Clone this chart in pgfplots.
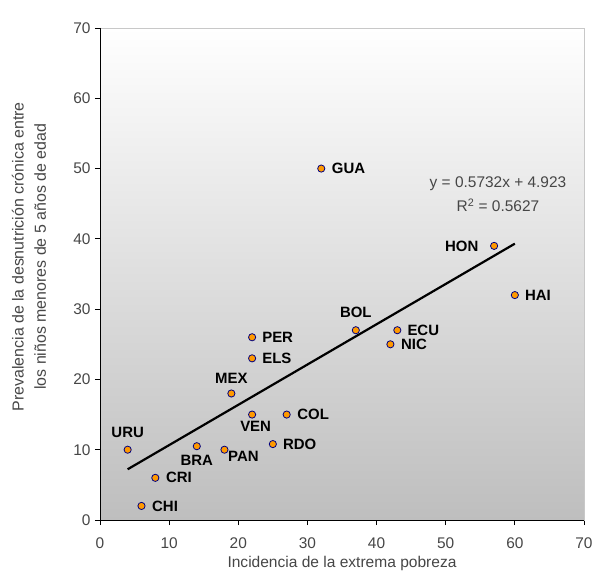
\documentclass[border=0pt]{standalone}
\usepackage{fontspec}
\setmainfont{Liberation Sans}
\usepackage{pgfplots}
\pgfplotsset{compat=1.18}
\definecolor{txt}{RGB}{70,70,70}
\definecolor{mk}{RGB}{255,153,0}
\definecolor{mkb}{RGB}{0,0,128}
\definecolor{bgb}{RGB}{190,190,190}
\definecolor{brd}{RGB}{200,200,200}
\tikzset{lab/.style={font=\bfseries\fontsize{15}{18}\selectfont, inner sep=0pt, text=black}}
\begin{document}
\begin{tikzpicture}
\useasboundingbox (0,0) rectangle (593bp,571bp);
\begin{axis}[
  at={(100bp,51bp)}, anchor=south west,
  scale only axis, width=484bp, height=492bp,
  xmin=0,xmax=70,ymin=0,ymax=70,
  xtick={0,10,...,70}, ytick={0,10,...,70},
  tick align=outside, xtick pos=bottom, ytick pos=left,
  major tick length=5bp,
  tick style={black, line width=0.8pt},
  axis line style={brd, line width=0.8pt},
  axis background/.style={top color=white, bottom color=bgb},
  ticklabel style={font=\fontsize{15.5}{18}\selectfont, text=txt},
  xticklabel style={yshift=-9bp},
  yticklabel style={xshift=-1bp},
  /pgf/number format/assume math mode=true,
  clip=false,
  xlabel={Incidencia de la extrema pobreza},
  ylabel={Prevalencia de la desnutrición crónica entre\\los niños menores de 5 años de edad},
  xlabel style={font=\fontsize{15.6}{18}\selectfont, text=txt, at={(axis description cs:0.5,-0.0892)}, anchor=center},
  ylabel style={font=\fontsize{16}{22.5}\selectfont, text=txt, align=center, at={(axis description cs:-0.1467,0.535)}, anchor=center},
]
\addplot[black, line width=2.2bp] coordinates {(4,7.216) (60,39.315)};
\addplot[only marks, mark=*, mark size=3.6bp, mark options={fill=mk, draw=mkb, line width=0.8pt}] coordinates {
(4,10) (6,2) (8,6) (14,10.5) (18,10) (19,18) (22,15) (22,26) (22,23)
(25,10.8) (27,15) (32,50) (37,27) (43,27) (42,25) (57,39) (60,32)
};
\draw[black, line width=0.8pt] (rel axis cs:0,1) -- (rel axis cs:0,0) -- (rel axis cs:1,0);
\node[lab, anchor=center, yshift=17bp] at (axis cs:4,10) {URU};
\node[lab, anchor=west, xshift=10.5bp] at (axis cs:6,2) {CHI};
\node[lab, anchor=west, xshift=10.5bp] at (axis cs:8,6) {CRI};
\node[lab, anchor=center, yshift=-14bp] at (axis cs:14,10.5) {BRA};
\node[lab, anchor=west, xshift=3.5bp, yshift=-7bp] at (axis cs:18,10) {PAN};
\node[lab, anchor=center, yshift=15.5bp] at (axis cs:19,18) {MEX};
\node[lab, anchor=center, xshift=3.5bp, yshift=-12bp] at (axis cs:22,15) {VEN};
\node[lab, anchor=west, xshift=10bp] at (axis cs:22,26) {PER};
\node[lab, anchor=west, xshift=10bp] at (axis cs:22,23) {ELS};
\node[lab, anchor=west, xshift=10bp] at (axis cs:25,10.8) {RDO};
\node[lab, anchor=west, xshift=10.5bp] at (axis cs:27,15) {COL};
\node[lab, anchor=west, xshift=10.5bp] at (axis cs:32,50) {GUA};
\node[lab, anchor=center, yshift=17.5bp] at (axis cs:37,27) {BOL};
\node[lab, anchor=west, xshift=10bp] at (axis cs:43,27) {ECU};
\node[lab, anchor=west, xshift=10.5bp] at (axis cs:42,25) {NIC};
\node[lab, anchor=east, xshift=-15.5bp] at (axis cs:57,39) {HON};
\node[lab, anchor=west, xshift=10bp] at (axis cs:60,32) {HAI};
\node[font=\fontsize{15.5}{24.4}\selectfont, text=txt, align=center, inner sep=0pt] at (axis cs:57.56,46.34) {y = 0.5732x + 4.923\\R\textsuperscript{2} = 0.5627};
\end{axis}
\end{tikzpicture}
\end{document}
